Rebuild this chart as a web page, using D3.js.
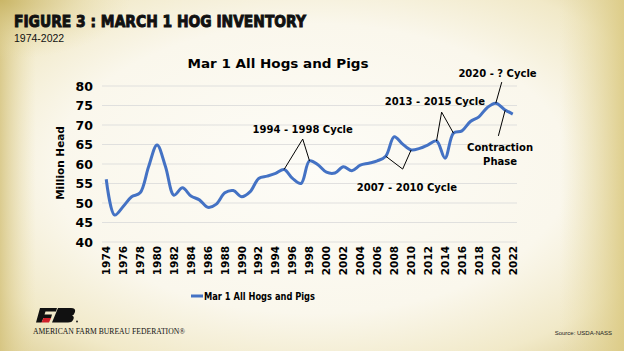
<!DOCTYPE html>
<html>
<head>
<meta charset="utf-8">
<script src="https://cdn.jsdelivr.net/npm/d3@7"></script>
<style>
  body { margin: 0; }
  svg { display: block; }
</style>
</head>
<body>
<div id="chart"></div>
<script>
// March 1 all hogs and pigs, million head
var years = d3.range(1974, 2023);
var hogs = [56.1, 46.9, 49.1, 51.6, 52.6, 59.3, 64.9, 59.3, 52.0, 53.9,
            51.8, 50.8, 48.9, 49.7, 52.6, 53.2, 51.6, 52.9, 56.3, 56.9,
            57.6, 58.6, 56.3, 55.0, 60.8, 59.8, 57.9, 57.7, 59.3, 58.3,
            59.7, 60.2, 60.8, 62.0, 67.0, 65.1, 63.6, 64.0, 64.9, 65.9,
            61.5, 67.9, 68.5, 70.9, 72.1, 74.5, 75.6, 74.0, 72.8];
var yTicks = [40, 45, 50, 55, 60, 65, 70, 75, 80];
var xTickYears = d3.range(1974, 2023, 2);

// callouts: line from a data year, to an apex, to another data year (or point)
var callouts = [
  {label: ["1994 - 1998 Cycle"], tx: 1997.2, ty: 67.9, path: [[1995], [1997.2, 66.4], [1998]]},
  {label: ["2007 - 2010 Cycle"], tx: 2009.5, ty: 53.2, path: [[2007], [2009.0, 58.7], [2010]]},
  {label: ["2013 - 2015 Cycle"], tx: 2012.8, ty: 75.1, path: [[2013], [2013.6, 73.3], [2015]]},
  {label: ["2020 - ? Cycle"], tx: 2020.2, ty: 82.3, path: [[2020.7, 81.0], [2020]]},
  {label: ["Contraction", "Phase"], tx: 2020.5, ty: 63.3, path: [[2020.3, 67.2], [2021.1, 73.8]]}
];

var W = 624, H = 351;
var svg = d3.select("#chart").append("svg").attr("width", W).attr("height", H);
var defs = svg.append("defs");

// parchment background
var rg = defs.append("radialGradient").attr("id", "bg")
  .attr("cx", "50%").attr("cy", "48%").attr("r", "75%");
rg.append("stop").attr("offset", "0%").attr("stop-color", "#fdfcf7");
rg.append("stop").attr("offset", "55%").attr("stop-color", "#faf7ec");
rg.append("stop").attr("offset", "80%").attr("stop-color", "#f1e9c8");
rg.append("stop").attr("offset", "100%").attr("stop-color", "#dccd92");
svg.append("rect").attr("width", W).attr("height", H).attr("fill", "url(#bg)");

var lg = defs.append("linearGradient").attr("id", "rside").attr("x1", "0").attr("x2", "1");
lg.append("stop").attr("offset", "0%").attr("stop-color", "#e8dca8").attr("stop-opacity", 0);
lg.append("stop").attr("offset", "100%").attr("stop-color", "#dccb85").attr("stop-opacity", 0.9);
svg.append("rect").attr("x", 560).attr("width", 64).attr("height", H).attr("fill", "url(#rside)");
var lg2 = defs.append("linearGradient").attr("id", "lside").attr("x1", "1").attr("x2", "0");
lg2.append("stop").attr("offset", "0%").attr("stop-color", "#e8dca8").attr("stop-opacity", 0);
lg2.append("stop").attr("offset", "100%").attr("stop-color", "#d4c27c").attr("stop-opacity", 0.8);
svg.append("rect").attr("width", 36).attr("height", H).attr("fill", "url(#lside)");
var cr = defs.append("radialGradient").attr("id", "corner").attr("cx", "0").attr("cy", "0").attr("r", "1");
cr.append("stop").attr("offset", "0%").attr("stop-color", "#c8b464").attr("stop-opacity", 0.9);
cr.append("stop").attr("offset", "100%").attr("stop-color", "#e8dca8").attr("stop-opacity", 0);
svg.append("rect").attr("width", 130).attr("height", 60).attr("fill", "url(#corner)");

// headings
svg.append("text").attr("x", 14).attr("y", 27)
  .attr("font-family", "DejaVu Sans, sans-serif").attr("font-weight", "bold")
  .attr("font-size", 16.5).attr("fill", "#111").attr("stroke", "#111").attr("stroke-width", 1)
  .attr("textLength", 292).attr("lengthAdjust", "spacingAndGlyphs")
  .text("FIGURE 3 : MARCH 1 HOG INVENTORY");
svg.append("text").attr("x", 14).attr("y", 42)
  .attr("font-family", "Liberation Sans, Arial, sans-serif").attr("font-size", 10.5).attr("fill", "#111")
  .text("1974-2022");

var plotLeft = 102, plotRight = 517, plotTop = 86, plotBottom = 242;
var x = d3.scaleBand().domain(years).range([plotLeft, plotRight]);
var xPos = d3.scaleLinear().domain([1974, 2022])
  .range([plotLeft + x.bandwidth() / 2, plotRight - x.bandwidth() / 2]);
var y = d3.scaleLinear().domain([40, 80]).range([plotBottom, plotTop]);

svg.append("text").attr("x", 278).attr("y", 68).attr("text-anchor", "middle")
  .attr("font-family", "DejaVu Sans, sans-serif").attr("font-weight", "bold").attr("font-size", 13)
  .attr("textLength", 181).attr("lengthAdjust", "spacingAndGlyphs").attr("fill", "#000")
  .text("Mar 1 All Hogs and Pigs");

// grid
svg.append("g").selectAll("line").data(yTicks).join("line")
  .attr("x1", plotLeft).attr("x2", plotRight)
  .attr("y1", function(d) { return y(d); }).attr("y2", function(d) { return y(d); })
  .attr("stroke", "#d9d9d9").attr("stroke-width", 0.8);

// y axis
var yAxis = svg.append("g").attr("transform", "translate(" + (plotLeft - 9) + ",0)")
  .call(d3.axisLeft(y).tickValues(yTicks).tickSize(0).tickPadding(0));
yAxis.select(".domain").remove();
yAxis.selectAll("text").attr("font-family", "DejaVu Sans, sans-serif").attr("font-weight", "bold")
  .attr("font-size", 12.5).attr("fill", "#000").attr("dy", "0.35em");

svg.append("text").attr("transform", "translate(64,163) rotate(-90)").attr("text-anchor", "middle")
  .attr("font-family", "DejaVu Sans, sans-serif").attr("font-weight", "bold").attr("font-size", 10.5)
  .attr("fill", "#000").text("Million Head");

// x axis labels
var xAxis = svg.append("g").attr("transform", "translate(0," + (plotBottom + 3) + ")")
  .call(d3.axisBottom(x).tickValues(xTickYears).tickSize(0).tickPadding(0));
xAxis.select(".domain").remove();
xAxis.selectAll("text").attr("font-family", "DejaVu Sans, sans-serif").attr("font-weight", "bold")
  .attr("font-size", 10.5).attr("fill", "#000")
  .attr("text-anchor", "end").attr("x", -1).attr("y", 0).attr("dy", "0.36em")
  .attr("transform", "rotate(-90)");

// series line
var line = d3.line()
  .x(function(d, i) { return xPos(years[i]); })
  .y(function(d) { return y(d); })
  .curve(d3.curveCatmullRom.alpha(0.5));
svg.append("path").datum(hogs).attr("d", line)
  .attr("fill", "none").attr("stroke", "#4472c4").attr("stroke-width", 3).attr("stroke-linejoin", "round");

// callouts
function pt(p) {
  if (p.length === 1) return [xPos(p[0]), y(hogs[years.indexOf(p[0])])];
  return [xPos(p[0]), y(p[1])];
}
var cg = svg.append("g");
callouts.forEach(function(c) {
  cg.append("path").attr("d", d3.line()(c.path.map(pt)))
    .attr("fill", "none").attr("stroke", "#000").attr("stroke-width", 1);
  c.label.forEach(function(t, i) {
    cg.append("text").attr("x", xPos(c.tx)).attr("y", y(c.ty) + i * 14).attr("text-anchor", "middle")
      .attr("font-family", "DejaVu Sans, sans-serif").attr("font-weight", "bold").attr("font-size", 10)
      .attr("fill", "#000").text(t);
  });
});

// legend
svg.append("line").attr("x1", 191).attr("x2", 203).attr("y1", 296).attr("y2", 296)
  .attr("stroke", "#4472c4").attr("stroke-width", 3);
svg.append("text").attr("x", 204).attr("y", 300)
  .attr("font-family", "DejaVu Sans, sans-serif").attr("font-weight", "bold").attr("font-size", 11)
  .attr("textLength", 111).attr("lengthAdjust", "spacingAndGlyphs").attr("fill", "#000")
  .text("Mar 1 All Hogs and Pigs");

// logo
var logo = svg.append("g").attr("transform", "translate(36,308)");
logo.append("path").attr("d", "M4,0 L21,0 L20,3.5 L9.5,3.5 L8.5,6.5 L16,6.5 L15,10 L7.5,10 L5.5,14.5 L0,14.5 Z").attr("fill", "#111");
logo.append("path").attr("d", "M7.5,10 L15,10 L13,14.5 L5.5,14.5 Z").attr("fill", "#d0202a");
logo.append("path").attr("d", "M22,0 L35,0 Q40,0 39,4 L38.5,5 Q38,7 36,7.5 Q38.5,8.5 37.5,11 L37,12 Q36,14.5 32,14.5 L16,14.5 Z").attr("fill", "#111");
logo.append("circle").attr("cx", 41).attr("cy", 13.5).attr("r", 0.9).attr("fill", "#111");
svg.append("text").attr("x", 33).attr("y", 334)
  .attr("font-family", "Liberation Serif, serif").attr("font-size", 8)
  .attr("textLength", 152).attr("lengthAdjust", "spacingAndGlyphs").attr("fill", "#111")
  .text("AMERICAN FARM BUREAU FEDERATION\u00AE");
svg.append("text").attr("x", 612).attr("y", 335).attr("text-anchor", "end")
  .attr("font-family", "Liberation Sans, Arial, sans-serif").attr("font-size", 6).attr("fill", "#222")
  .text("Source: USDA-NASS");
</script>
</body>
</html>
